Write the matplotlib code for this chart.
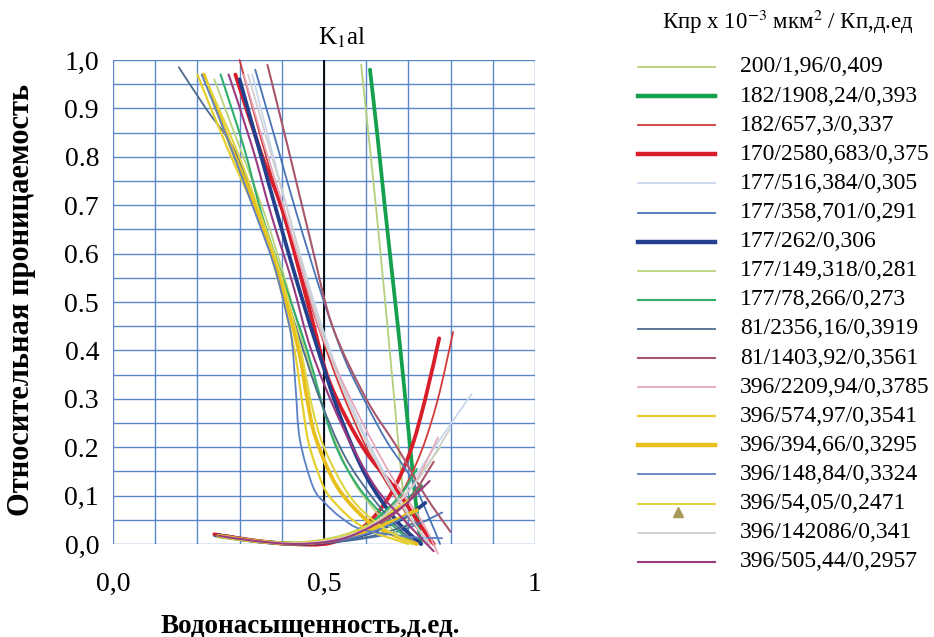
import numpy as np
import matplotlib
matplotlib.use("Agg")
import matplotlib.pyplot as plt
from matplotlib.path import Path
from matplotlib.patches import PathPatch
from matplotlib.lines import Line2D
from matplotlib import font_manager as fm

_names = {f.name for f in fm.fontManager.ttflist}
_serif = next((n for n in ["Liberation Serif", "Times New Roman", "Tinos", "Nimbus Roman", "DejaVu Serif"]
               if n in _names), "DejaVu Serif")
plt.rcParams['font.family'] = [_serif, 'DejaVu Serif']
plt.rcParams['mathtext.fontset'] = 'stix'

W, H = 934, 637

labels = ["200/1,96/0,409", "182/1908,24/0,393", "182/657,3/0,337", "170/2580,683/0,375",
          "177/516,384/0,305", "177/358,701/0,291", "177/262/0,306", "177/149,318/0,281",
          "177/78,266/0,273", "81/2356,16/0,3919", "81/1403,92/0,3561", "396/2209,94/0,3785",
          "396/574,97/0,3541", "396/394,66/0,3295", "396/148,84/0,3324", "396/54,05/0,2471",
          "396/142086/0,341", "396/505,44/0,2957"]

colors = ["#b4cf7c", "#14a04c", "#d23a3a", "#d81e2a", "#c9d6ea", "#4a74b4", "#243f8c", "#b8d47c",
          "#2fae6c", "#4d6b8c", "#a8586a", "#e6a8b8", "#e6d030", "#e8bf1c", "#5c80c4", "#e2d43e",
          "#cfcfcf", "#9c3a80"]
widths = [1.3, 3.2, 1.3, 3.2, 1.3, 1.3, 3.2, 1.3, 1.5, 1.3, 1.5, 1.3, 1.6, 3.2, 1.3, 1.5, 1.3, 1.5]

# oil relative permeability (decreasing curves)
kro_x = [
    [0.588, 0.605, 0.625, 0.645, 0.66, 0.675, 0.69, 0.70],
    [0.609, 0.627, 0.645, 0.665, 0.68, 0.695, 0.71, 0.722, 0.73],
    [0.30, 0.35, 0.40, 0.445, 0.49, 0.54, 0.60, 0.66, 0.71, 0.75],
    [0.29, 0.35, 0.405, 0.47, 0.514, 0.592, 0.673, 0.735, 0.76],
    [0.33, 0.38, 0.43, 0.48, 0.54, 0.60, 0.66, 0.71, 0.745],
    [0.337, 0.39, 0.436, 0.50, 0.55, 0.60, 0.65, 0.704, 0.744, 0.775],
    [0.30, 0.345, 0.39, 0.44, 0.49, 0.54, 0.60, 0.67, 0.73],
    [0.24, 0.30, 0.36, 0.41, 0.455, 0.51, 0.57, 0.64, 0.70],
    [0.255, 0.31, 0.353, 0.41, 0.46, 0.52, 0.58, 0.65, 0.71],
    [0.156, 0.22, 0.284, 0.34, 0.39, 0.44, 0.49, 0.55, 0.62, 0.68, 0.72],
    [0.366, 0.42, 0.47, 0.52, 0.60, 0.673, 0.74, 0.80],
    [0.31, 0.36, 0.41, 0.46, 0.50, 0.58, 0.66, 0.73, 0.77],
    [0.20, 0.27, 0.341, 0.39, 0.43, 0.447, 0.462, 0.485, 0.514, 0.592, 0.70],
    [0.215, 0.28, 0.345, 0.395, 0.44, 0.46, 0.48, 0.53, 0.60, 0.66, 0.72],
    [0.21, 0.27, 0.33, 0.38, 0.41, 0.424, 0.433, 0.443, 0.474, 0.502, 0.54, 0.59, 0.70, 0.78],
    [0.22, 0.29, 0.35, 0.40, 0.445, 0.47, 0.50, 0.56, 0.63, 0.71],
    [0.32, 0.37, 0.42, 0.48, 0.55, 0.63, 0.70, 0.75],
    [0.274, 0.33, 0.375, 0.425, 0.47, 0.54, 0.62, 0.70, 0.76],
]
kro_y = [
    [0.99, 0.85, 0.68, 0.50, 0.36, 0.22, 0.08, 0.0],
    [0.98, 0.84, 0.69, 0.53, 0.41, 0.28, 0.15, 0.05, 0.0],
    [1.0, 0.84, 0.69, 0.56, 0.44, 0.32, 0.20, 0.11, 0.045, 0.0],
    [0.97, 0.81, 0.68, 0.47, 0.333, 0.20, 0.11, 0.03, 0.0],
    [0.97, 0.80, 0.64, 0.49, 0.34, 0.22, 0.12, 0.05, 0.0],
    [0.98, 0.82, 0.68, 0.50, 0.38, 0.29, 0.21, 0.14, 0.065, 0.0],
    [0.96, 0.82, 0.68, 0.53, 0.39, 0.26, 0.14, 0.05, 0.0],
    [0.96, 0.82, 0.68, 0.54, 0.40, 0.25, 0.13, 0.05, 0.0],
    [0.97, 0.82, 0.68, 0.53, 0.40, 0.22, 0.12, 0.05, 0.0],
    [0.985, 0.90, 0.82, 0.70, 0.57, 0.43, 0.30, 0.18, 0.09, 0.03, 0.0],
    [0.99, 0.80, 0.62, 0.45, 0.30, 0.20, 0.10, 0.025],
    [0.97, 0.82, 0.68, 0.53, 0.42, 0.27, 0.14, 0.05, -0.02],
    [0.97, 0.82, 0.68, 0.55, 0.40, 0.30, 0.215, 0.15, 0.097, 0.035, 0.0],
    [0.97, 0.82, 0.68, 0.55, 0.40, 0.30, 0.22, 0.12, 0.05, 0.02, 0.0],
    [0.97, 0.84, 0.70, 0.58, 0.48, 0.42, 0.32, 0.215, 0.118, 0.085, 0.055, 0.03, 0.015, 0.012],
    [0.96, 0.82, 0.68, 0.55, 0.40, 0.29, 0.20, 0.10, 0.04, 0.0],
    [0.97, 0.82, 0.67, 0.48, 0.31, 0.16, 0.06, 0.0],
    [0.97, 0.82, 0.68, 0.54, 0.40, 0.25, 0.12, 0.04, -0.015],
]
# water relative permeability (increasing curves)
krw_x = [
    [0.26, 0.35, 0.45, 0.55, 0.62, 0.67, 0.70],
    [0.25, 0.35, 0.45, 0.55, 0.62, 0.68, 0.73],
    [0.27, 0.35, 0.45, 0.55, 0.62, 0.68, 0.73, 0.77, 0.806],
    [0.24, 0.33, 0.42, 0.514, 0.593, 0.656, 0.704, 0.74, 0.773],
    [0.26, 0.35, 0.45, 0.55, 0.62, 0.70, 0.77, 0.85],
    [0.26, 0.35, 0.45, 0.55, 0.65, 0.72, 0.78],
    [0.25, 0.34, 0.44, 0.54, 0.63, 0.70, 0.74],
    [0.27, 0.36, 0.45, 0.55, 0.63, 0.70, 0.775],
    [0.26, 0.35, 0.45, 0.55, 0.62, 0.68, 0.72],
    [0.24, 0.34, 0.44, 0.54, 0.63, 0.72],
    [0.26, 0.35, 0.45, 0.55, 0.63, 0.70, 0.76],
    [0.26, 0.35, 0.45, 0.55, 0.63, 0.71, 0.77],
    [0.25, 0.34, 0.44, 0.54, 0.62, 0.70],
    [0.25, 0.34, 0.44, 0.54, 0.63, 0.72],
    [0.26, 0.35, 0.45, 0.55, 0.63, 0.70],
    [0.25, 0.34, 0.44, 0.54, 0.62, 0.68],
    [0.26, 0.35, 0.45, 0.55, 0.63, 0.72, 0.80],
    [0.25, 0.34, 0.44, 0.54, 0.62, 0.69, 0.75],
]
krw_y = [
    [0.015, 0.006, 0.003, 0.012, 0.035, 0.065, 0.09],
    [0.016, 0.005, 0.001, 0.010, 0.035, 0.075, 0.12],
    [0.018, 0.006, 0.0, 0.010, 0.04, 0.10, 0.19, 0.30, 0.438],
    [0.020, 0.008, 0.0, 0.002, 0.035, 0.10, 0.19, 0.30, 0.425],
    [0.015, 0.005, 0.002, 0.012, 0.045, 0.12, 0.21, 0.31],
    [0.015, 0.004, 0.0, 0.006, 0.02, 0.04, 0.065],
    [0.018, 0.006, 0.0, 0.008, 0.03, 0.06, 0.085],
    [0.015, 0.005, 0.004, 0.02, 0.055, 0.11, 0.20],
    [0.016, 0.005, 0.001, 0.015, 0.05, 0.10, 0.155],
    [0.016, 0.006, 0.0, 0.006, 0.02, 0.045],
    [0.018, 0.006, 0.0, 0.010, 0.04, 0.09, 0.17],
    [0.015, 0.005, 0.002, 0.015, 0.05, 0.12, 0.22],
    [0.015, 0.005, 0.002, 0.015, 0.045, 0.09],
    [0.017, 0.006, 0.001, 0.012, 0.035, 0.07],
    [0.015, 0.005, 0.002, 0.010, 0.03, 0.06],
    [0.016, 0.006, 0.002, 0.015, 0.045, 0.08],
    [0.015, 0.005, 0.002, 0.015, 0.05, 0.13, 0.24],
    [0.017, 0.006, 0.0, 0.010, 0.04, 0.08, 0.13],
]

x_ticks = [0.0, 0.5, 1.0]
x_ticklabels = ["0,0", "0,5", "1"]
y_ticks = [0.0, 0.1, 0.2, 0.3, 0.4, 0.5, 0.6, 0.7, 0.8, 0.9, 1.0]
y_ticklabels = ["0,0", "0,1", "0.2", "0.3", "0.4", "0.5", "0.6", "0.7", "0.8", "0.9", "1,0"]


def smooth_path(xs, ys):
    pts = np.column_stack([xs, ys]).astype(float)
    verts = [pts[0]]
    codes = [Path.MOVETO]
    n = len(pts)
    for i in range(n - 1):
        p0 = pts[i - 1] if i > 0 else pts[i]
        p1 = pts[i]
        p2 = pts[i + 1]
        p3 = pts[i + 2] if i + 2 < n else pts[i + 1]
        c1 = p1 + (p2 - p0) / 6.0
        c2 = p2 - (p3 - p1) / 6.0
        verts += [c1, c2, p2]
        codes += [Path.CURVE4] * 3
    return Path(np.array(verts), codes)


fig = plt.figure(figsize=(W / 100, H / 100), dpi=100)
L, R, T, B = 113, 535, 60, 544
ax = fig.add_axes([L / W, 1 - B / H, (R - L) / W, (B - T) / H])
ax.set_xlim(0, 1)
ax.set_ylim(0, 1)
for s in ax.spines.values():
    s.set_visible(False)

grid_c = "#5b86c9"
for gx in np.arange(0, 1.0001, 0.1):
    ax.axvline(gx, color=grid_c, lw=1.0, zorder=1)
for gy in np.arange(0, 1.0001, 0.05):
    ax.axhline(gy, color=grid_c, lw=1.0, zorder=1)
ax.axvline(0.5, color="black", lw=1.3, zorder=2)

ax.set_xticks(x_ticks)
ax.set_xticklabels(x_ticklabels)
ax.set_yticks(y_ticks)
ax.set_yticklabels(y_ticklabels)
ax.tick_params(axis='x', length=0, pad=20, labelsize=20)
ax.tick_params(axis='y', length=0, pad=10, labelsize=20)

for i in range(len(labels)):
    for xs, ys in ((kro_x[i], kro_y[i]), (krw_x[i], krw_y[i])):
        p = PathPatch(smooth_path(xs, ys), fill=False, edgecolor=colors[i],
                      lw=widths[i] * 0.85 if widths[i] > 2 else widths[i],
                      transform=ax.transData, clip_on=False, zorder=3, capstyle='round')
        ax.add_patch(p)

fig.text(342 / W, 1 - 38 / H, r"K$_1$al", ha="center", va="center", fontsize=18)
fig.text(22 / W, 1 - 300 / H, "Относительная проницаемость", rotation=90,
         ha="center", va="center", fontsize=22, fontweight="bold")
fig.text(310 / W, 1 - 626 / H, "Водонасыщенность,д.ед.", ha="center", va="center",
         fontsize=19.5, fontweight="bold")

# legend
fig.text(788 / W, 1 - 22 / H, r"Кпр x 10$^{-3}$ мкм$^{2}$ / Кп,д.ед", ha="center",
         va="center", fontsize=16.5)
y0, dy = 67, 29.1
for i, lab in enumerate(labels):
    yy = 1 - (y0 + i * dy) / H
    fig.add_artist(Line2D([638 / W, 715 / W], [yy, yy], transform=fig.transFigure,
                          color=colors[i], lw=widths[i]))
    if i == 15:
        fig.add_artist(Line2D([678 / W], [yy - 8 / H], transform=fig.transFigure,
                              marker="^", color="#a89a5a", markersize=7, lw=0))
    fig.text(740 / W, yy, lab, ha="left", va="center", fontsize=17)

fig.savefig("out.png", dpi=100)
